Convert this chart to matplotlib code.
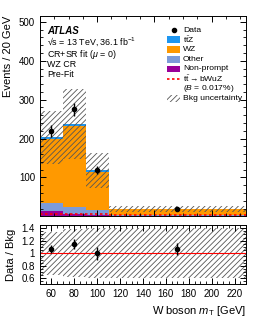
import matplotlib
matplotlib.use('Agg')
import matplotlib.pyplot as plt
import numpy as np
from matplotlib.patches import Rectangle
from matplotlib.ticker import AutoMinorLocator, FixedLocator, FuncFormatter

plt.rcParams['font.family'] = ['Liberation Sans', 'DejaVu Sans']
plt.rcParams['mathtext.fontset'] = 'custom'
plt.rcParams['mathtext.rm'] = 'Liberation Sans'
plt.rcParams['mathtext.it'] = 'Liberation Sans:italic'
plt.rcParams['mathtext.bf'] = 'Liberation Sans:bold'
plt.rcParams['hatch.linewidth'] = 0.6

# bins (GeV) and yields per 20 GeV
edges = np.array([50, 70, 90, 110, 230])
centers = np.array([60, 80, 100, 170])

nonprompt = np.array([13, 6, 4, 2])
other = np.array([22, 18, 13, 2])
wz = np.array([165, 209, 98, 14])
ttz = np.array([3, 4, 3, 0.8])
signal = np.array([7, 6, 5, 4])
bkg_unc = np.array([68, 90, 46, 7])

data = np.array([220, 275, 119, 20])
data_err = np.array([15, 17, 11, 2])

ratio = np.array([1.07, 1.15, 1.0, 1.07])
ratio_err = np.array([0.07, 0.08, 0.1, 0.1])
ratio_unc = np.array([0.34, 0.38, 0.40, 0.40])

col_ttz = '#1e96f0'
col_wz = '#ff9900'
col_other = '#7d9bd8'
col_np = '#990099'
col_hatch = '#555555'

fig = plt.figure(figsize=(2.66, 3.22), dpi=100)
ax = fig.add_axes([0.150, 0.328, 0.775, 0.622])
axr = fig.add_axes([0.150, 0.118, 0.775, 0.183])

# stacked backgrounds
base = np.zeros(4)
for vals, c in [(nonprompt, col_np), (other, col_other), (wz, col_wz), (ttz, col_ttz)]:
    ax.stairs(base + vals, edges, baseline=base, fill=True, color=c, linewidth=0)
    base = base + vals
total = base

ax.stairs(total + bkg_unc, edges, baseline=total - bkg_unc, fill=True,
          facecolor='none', edgecolor=col_hatch, hatch='//////', linewidth=0)
ax.stairs(signal, edges, baseline=None, color='red', linestyle=(0, (1.5, 1.5)), linewidth=1.2)
ax.errorbar(centers, data, yerr=data_err, fmt='o', color='black', markersize=3,
            elinewidth=1, capsize=0)

ax.set_xlim(50, 230)
ax.set_ylim(0, 515)
ax.set_ylabel('Events / 20 GeV', fontsize=8, loc='top')
ax.yaxis.set_major_locator(FixedLocator([100, 200, 300, 400, 500]))
ax.yaxis.set_minor_locator(AutoMinorLocator(5))
ax.xaxis.set_minor_locator(AutoMinorLocator(4))
ax.tick_params(labelbottom=False)

# labels on the left
tx = 0.035
ax.text(tx, 0.925, 'ATLAS', transform=ax.transAxes, fontsize=7, fontweight='bold',
        fontstyle='italic', va='center')
lines = ['\u221as = 13 TeV, 36.1 fb$^{-1}$', r'CR+SR fit ($\mu$ = 0)', 'WZ CR', 'Pre-Fit']
line_y = [0.874, 0.810, 0.760, 0.706]
for t, yy in zip(lines, line_y):
    ax.text(tx, yy, t, transform=ax.transAxes, fontsize=6.4, va='center')

# legend, drawn by hand
labels = ['Data', r'$\mathrm{t\bar{t}Z}$', 'WZ', 'Other', 'Non-prompt',
          r'$\mathrm{t\bar{t}\rightarrow bWuZ}$', r'($\mathit{B}$ = 0.017%)', 'Bkg uncertainty']
kinds = ['data', col_ttz, col_wz, col_other, col_np, 'sig', None, 'unc']
lx0, lx1, ltx = 0.617, 0.680, 0.694
ly0, ldy, lh = 0.930, 0.0485, 0.034
for i, (lab, k) in enumerate(zip(labels, kinds)):
    yy = ly0 - i * ldy
    if k == 'data':
        ax.plot([(lx0 + lx1) / 2], [yy], 'o', color='black', markersize=3, transform=ax.transAxes)
    elif k == 'sig':
        ax.plot([lx0, lx1], [yy, yy], color='red', linestyle=(0, (1.5, 1.5)), linewidth=1.2,
                transform=ax.transAxes)
    elif k == 'unc':
        ax.add_patch(Rectangle((lx0, yy - lh / 2), lx1 - lx0, lh, transform=ax.transAxes,
                               facecolor='none', edgecolor=col_hatch, hatch='//////', linewidth=0))
    elif k is not None:
        ax.add_patch(Rectangle((lx0, yy - lh / 2), lx1 - lx0, lh, transform=ax.transAxes,
                               facecolor=k, edgecolor='none'))
    ax.text(ltx, yy, lab, transform=ax.transAxes, fontsize=6.1, va='center')

# ratio panel
axr.stairs(1 + ratio_unc, edges, baseline=1 - ratio_unc, fill=True,
           facecolor='none', edgecolor=col_hatch, hatch='//////', linewidth=0)
axr.axhline(1, color='red', linewidth=0.8)
axr.errorbar(centers, ratio, yerr=ratio_err, fmt='o', color='black', markersize=3,
             elinewidth=1, capsize=0)
axr.set_xlim(50, 230)
axr.set_ylim(0.51, 1.45)
axr.yaxis.set_major_locator(FixedLocator([0.6, 0.8, 1.0, 1.2, 1.4]))
axr.yaxis.set_major_formatter(FuncFormatter(lambda v, p: '1' if abs(v - 1) < 1e-6 else f'{v:.1f}'))
axr.yaxis.set_minor_locator(AutoMinorLocator(4))
axr.xaxis.set_major_locator(FixedLocator(np.arange(60, 221, 20)))
axr.xaxis.set_minor_locator(AutoMinorLocator(4))
axr.set_ylabel('Data / Bkg', fontsize=8)
axr.set_xlabel(r'W boson $m_\mathrm{T}$ [GeV]', fontsize=8, loc='right')

for a in (ax, axr):
    a.tick_params(which='both', direction='in', top=True, right=True, labelsize=7)
    a.tick_params(which='major', length=4, width=0.7)
    a.tick_params(which='minor', length=2, width=0.6)
    for s in a.spines.values():
        s.set_linewidth(0.7)

fig.align_ylabels([ax, axr])
fig.savefig('out.png', dpi=100)
